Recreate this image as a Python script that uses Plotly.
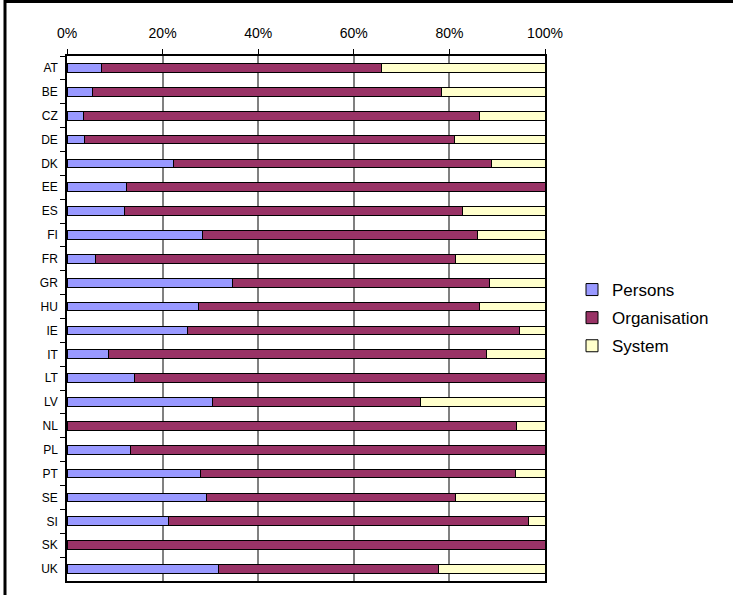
import plotly.graph_objects as go

countries = ["AT", "BE", "CZ", "DE", "DK", "EE", "ES", "FI", "FR", "GR", "HU",
             "IE", "IT", "LT", "LV", "NL", "PL", "PT", "SE", "SI", "SK", "UK"]
persons = [7.3, 5.4, 3.5, 3.7, 22.3, 12.5, 12.0, 28.4, 5.9, 34.7, 27.5,
           25.3, 8.7, 14.1, 30.4, 0.0, 13.2, 28.0, 29.1, 21.3, 0.0, 31.7]
organisation = [58.4, 73.0, 82.8, 77.3, 66.6, 87.5, 70.7, 57.4, 75.3, 53.7, 58.8,
                69.4, 79.0, 85.9, 43.5, 94.1, 86.8, 65.9, 52.1, 75.2, 100.0, 46.1]
system = [34.3, 21.6, 13.7, 19.0, 11.1, 0.0, 17.3, 14.2, 18.8, 11.6, 13.7,
          5.3, 12.3, 0.0, 26.1, 5.9, 0.0, 6.1, 18.8, 3.5, 0.0, 22.2]
tick_vals = [0, 20, 40, 60, 80, 100]
tick_text = ["0%", "20%", "40%", "60%", "80%", "100%"]

series = [("Persons", persons, "#9999FF"),
          ("Organisation", organisation, "#993366"),
          ("System", system, "#FFFFCC")]

fig = go.Figure()
for i, (name, vals, col) in enumerate(series):
    fig.add_trace(go.Bar(
        y=countries, x=vals, name=name, orientation="h",
        marker=dict(color=col, line=dict(color="black", width=1)),
        legendgroup=f"g{i}",
    ))

W, H = 733, 595
l, r, t, b = 67, 188, 56, 14
pw, ph = W - l - r, H - t - b

fig.update_layout(
    width=W, height=H,
    margin=dict(l=l, r=r, t=t, b=b, pad=0, autoexpand=False),
    barmode="stack", bargap=0.635,
    paper_bgcolor="white", plot_bgcolor="white",
    font=dict(family="Liberation Sans, Arial, sans-serif", size=12, color="black"),
    xaxis=dict(
        side="top", range=[0, 100], tickvals=tick_vals, ticktext=tick_text,
        showgrid=True, gridcolor="#808080", gridwidth=1.5,
        showline=True, linecolor="black", linewidth=1.5, mirror=True,
        ticks="outside", ticklen=5, tickcolor="black", ticklabelstandoff=6,
        zeroline=False, tickfont=dict(size=14),
    ),
    yaxis=dict(
        autorange="reversed", showgrid=False,
        showline=True, linecolor="black", linewidth=1.5, mirror=True,
        ticks="outside", ticklen=5, tickcolor="black", tickson="boundaries",
        ticklabelstandoff=5, tickfont=dict(size=12),
    ),
    legend=dict(
        x=(572 - l) / pw, y=(H - b - 318) / ph, xanchor="left", yanchor="middle",
        font=dict(size=17), traceorder="grouped", tracegroupgap=3,
        bgcolor="rgba(0,0,0,0)",
    ),
    shapes=[
        dict(type="line", xref="paper", yref="paper",
             x0=(5 - l) / pw, x1=(5 - l) / pw,
             y0=-(H - (H - b)) / ph, y1=1 + (t - 0) / ph,
             line=dict(color="black", width=3)),
        dict(type="line", xref="paper", yref="paper",
             x0=(5 - l) / pw, x1=(W - l) / pw,
             y0=1 + (t - 1.5) / ph, y1=1 + (t - 1.5) / ph,
             line=dict(color="black", width=3)),
    ],
)

fig.write_html("out.html", config={"displayModeBar": False},
               post_script="document.body.style.margin='0';document.body.style.overflow='hidden';")
